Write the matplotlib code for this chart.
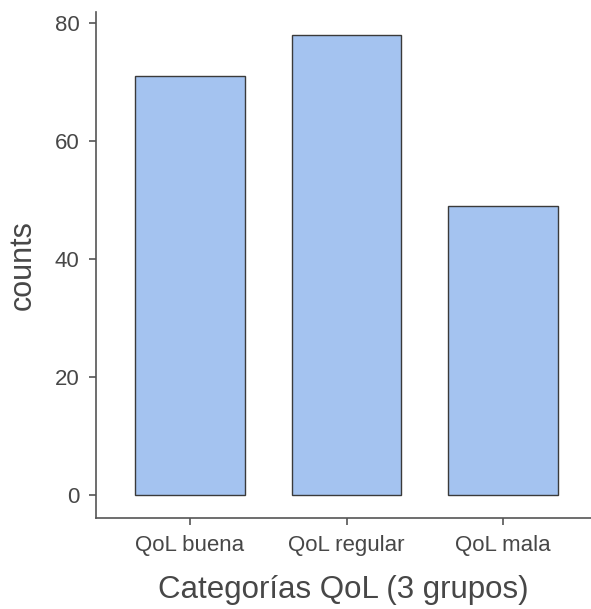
import matplotlib
matplotlib.use("Agg")
import matplotlib.pyplot as plt

# datos
categorias = ["QoL buena", "QoL regular", "QoL mala"]
conteos = [71, 78, 49]
yticks = [0, 20, 40, 60, 80]

plt.rcParams["font.family"] = ["Liberation Sans", "DejaVu Sans"]

fig = plt.figure(figsize=(5.91, 6.09), dpi=100)
# ejes colocados segun los pixeles del original
ax = fig.add_axes([96 / 591, 91 / 609, 1 - 96 / 591, (518 - 12) / 609])

x = list(range(len(categorias)))
ax.bar(x, conteos, width=0.7, color="#a4c3f0", edgecolor="#3a3a3a", linewidth=1.0)

ax.set_xlim(-0.60, 2.56)
ax.set_ylim(-3.9, 81.9)
ax.set_xticks(x)
ax.set_xticklabels(categorias)
ax.set_yticks(yticks)

for s in ["top", "right"]:
    ax.spines[s].set_visible(False)
for s in ["left", "bottom"]:
    ax.spines[s].set_color("#555555")
    ax.spines[s].set_linewidth(1.2)

ax.tick_params(axis="both", colors="#555555", length=5, width=1.2,
               labelsize=16, labelcolor="#474747", pad=7)

ax.set_xlabel("Categorías QoL (3 grupos)", fontsize=22.5, color="#474747", va="center")
ax.set_ylabel("counts", fontsize=22, color="#474747", va="center")
ax.xaxis.set_label_coords(0.5, -72 / 506)
ax.yaxis.set_label_coords(-73.5 / 495, 0.5)

fig.savefig("out.png", dpi=100)
